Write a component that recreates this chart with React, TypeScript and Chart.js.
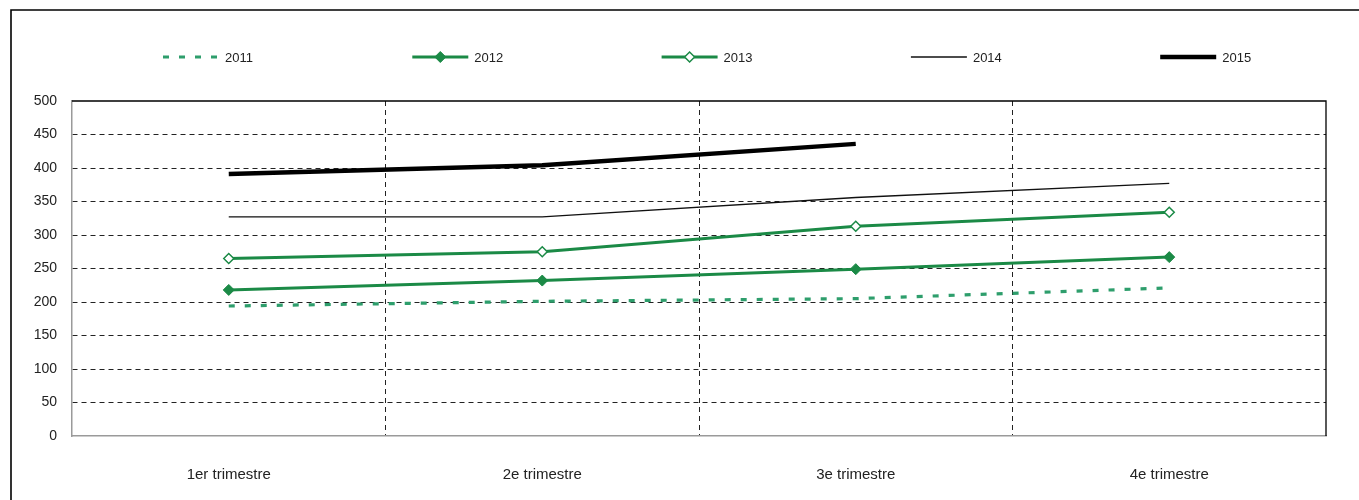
import React, { useEffect, useRef } from "react";
import { Chart, registerables } from "chart.js";

Chart.register(...registerables);

const categories = ["1er trimestre", "2e trimestre", "3e trimestre", "4e trimestre"];
const seriesLabels = ["2011", "2012", "2013", "2014", "2015"];
const values2011 = [194, 201, 205, 221];
const values2012 = [218, 232, 249, 267];
const values2013 = [265, 275, 313, 334];
const values2014 = [327, 327, 356, 377];
const values2015: (number | null)[] = [391, 404, 436, null];
const yMin = 0;
const yMax = 500;
const yStep = 50;

const FONT = "'Liberation Sans', Arial, sans-serif";
const GREEN = "#1b8a46";
const GREEN_DASH = "#2e9e6c";

const PLOT_LEFT = 72;
const PLOT_RIGHT = 1326;
const PLOT_TOP = 101;
const PLOT_BOTTOM = 436;

const framePlugin = {
  id: "frameAndLegend",
  beforeDraw(chart: any) {
    const ctx = chart.ctx;
    ctx.save();
    ctx.fillStyle = "#fff";
    ctx.fillRect(0, 0, chart.width, chart.height);
    ctx.strokeStyle = "#000";
    ctx.lineWidth = 1.6;
    ctx.beginPath();
    ctx.moveTo(11, chart.height + 2);
    ctx.lineTo(11, 10);
    ctx.lineTo(chart.width + 2, 10);
    ctx.stroke();
    ctx.restore();
  },
  afterDraw(chart: any) {
    const ctx = chart.ctx;
    const a = chart.chartArea;
    ctx.save();
    // top and right borders of the plot
    ctx.strokeStyle = "#000";
    ctx.lineWidth = 1.3;
    ctx.beginPath();
    ctx.moveTo(a.left, a.top);
    ctx.lineTo(a.right, a.top);
    ctx.lineTo(a.right, a.bottom);
    ctx.stroke();

    // legend
    const y = 57;
    chart.data.datasets.forEach((ds: any, i: number) => {
      const x0 = 163 + i * 249.3;
      const len = 56;
      ctx.save();
      ctx.strokeStyle = ds.borderColor;
      ctx.lineWidth = ds.borderWidth;
      ctx.lineCap = "butt";
      ctx.setLineDash(ds.borderDash || []);
      ctx.beginPath();
      ctx.moveTo(x0, y);
      ctx.lineTo(x0 + len, y);
      ctx.stroke();
      ctx.restore();
      if (ds.pointRadius && ds.pointRadius > 0) {
        const cx = x0 + len / 2;
        const r = ds.pointRadius;
        ctx.save();
        ctx.beginPath();
        ctx.moveTo(cx - r, y);
        ctx.lineTo(cx, y - r);
        ctx.lineTo(cx + r, y);
        ctx.lineTo(cx, y + r);
        ctx.closePath();
        ctx.fillStyle = ds.pointBackgroundColor;
        ctx.fill();
        ctx.lineWidth = ds.pointBorderWidth;
        ctx.strokeStyle = ds.pointBorderColor;
        ctx.stroke();
        ctx.restore();
      }
      ctx.fillStyle = "#222";
      ctx.font = `13px ${FONT}`;
      ctx.textAlign = "left";
      ctx.textBaseline = "middle";
      ctx.fillText(ds.label, x0 + len + 6, y + 1);
    });
    ctx.restore();
  },
};

export default function App() {
  const canvasRef = useRef<HTMLCanvasElement | null>(null);

  useEffect(() => {
    if (!canvasRef.current) return;
    const chart = new Chart(canvasRef.current, {
      type: "line",
      data: {
        labels: categories,
        datasets: [
          {
            label: seriesLabels[0],
            data: values2011,
            borderColor: GREEN_DASH,
            borderWidth: 3.2,
            borderDash: [6, 10],
            borderCapStyle: "butt",
            pointRadius: 0,
            fill: false,
            tension: 0,
          },
          {
            label: seriesLabels[1],
            data: values2012,
            borderColor: GREEN,
            borderWidth: 3,
            pointStyle: "rectRot",
            pointRadius: 5.5,
            pointBorderWidth: 1,
            pointBackgroundColor: GREEN,
            pointBorderColor: GREEN,
            fill: false,
            tension: 0,
          },
          {
            label: seriesLabels[2],
            data: values2013,
            borderColor: GREEN,
            borderWidth: 3,
            pointStyle: "rectRot",
            pointRadius: 5,
            pointBorderWidth: 1.5,
            pointBackgroundColor: "#ffffff",
            pointBorderColor: GREEN,
            fill: false,
            tension: 0,
          },
          {
            label: seriesLabels[3],
            data: values2014,
            borderColor: "#111",
            borderWidth: 1.4,
            pointRadius: 0,
            fill: false,
            tension: 0,
          },
          {
            label: seriesLabels[4],
            data: values2015,
            borderColor: "#000",
            borderWidth: 4.5,
            pointRadius: 0,
            fill: false,
            tension: 0,
          },
        ],
      },
      options: {
        animation: false,
        responsive: true,
        maintainAspectRatio: false,
        layout: {
          padding: { top: PLOT_TOP, right: 1359 - PLOT_RIGHT, left: 0, bottom: 0 },
        },
        plugins: {
          legend: { display: false },
          tooltip: { enabled: false },
        },
        scales: {
          x: {
            type: "category",
            offset: true,
            grid: {
              offset: true,
              drawTicks: false,
              lineWidth: 1,
              color: (c: any) => (c.type === "tick" && c.index > 0 ? "#222" : "transparent"),
            },
            border: { display: true, color: "#9a9a9a", width: 1.5, dash: [5, 4] },
            ticks: {
              padding: 30,
              color: "#222",
              font: { family: FONT, size: 15 },
            },
            afterFit: (s: any) => {
              s.height = 500 - PLOT_BOTTOM;
            },
          },
          y: {
            min: yMin,
            max: yMax,
            grid: {
              drawTicks: false,
              lineWidth: 1,
              color: (c: any) =>
                c.tick && (c.tick.value === yMin || c.tick.value === yMax) ? "transparent" : "#222",
            },
            border: { display: true, color: "#9a9a9a", width: 1.5, dash: [5, 4] },
            ticks: {
              stepSize: yStep,
              padding: 15,
              color: "#222",
              font: { family: FONT, size: 14 },
            },
            afterFit: (s: any) => {
              s.width = PLOT_LEFT;
            },
          },
        },
      },
      plugins: [framePlugin],
    });
    return () => chart.destroy();
  }, []);

  return (
    <div
      style={{
        position: "fixed",
        left: 0,
        top: 0,
        width: 1359,
        height: 500,
        background: "#fff",
      }}
    >
      <canvas ref={canvasRef} />
    </div>
  );
}
